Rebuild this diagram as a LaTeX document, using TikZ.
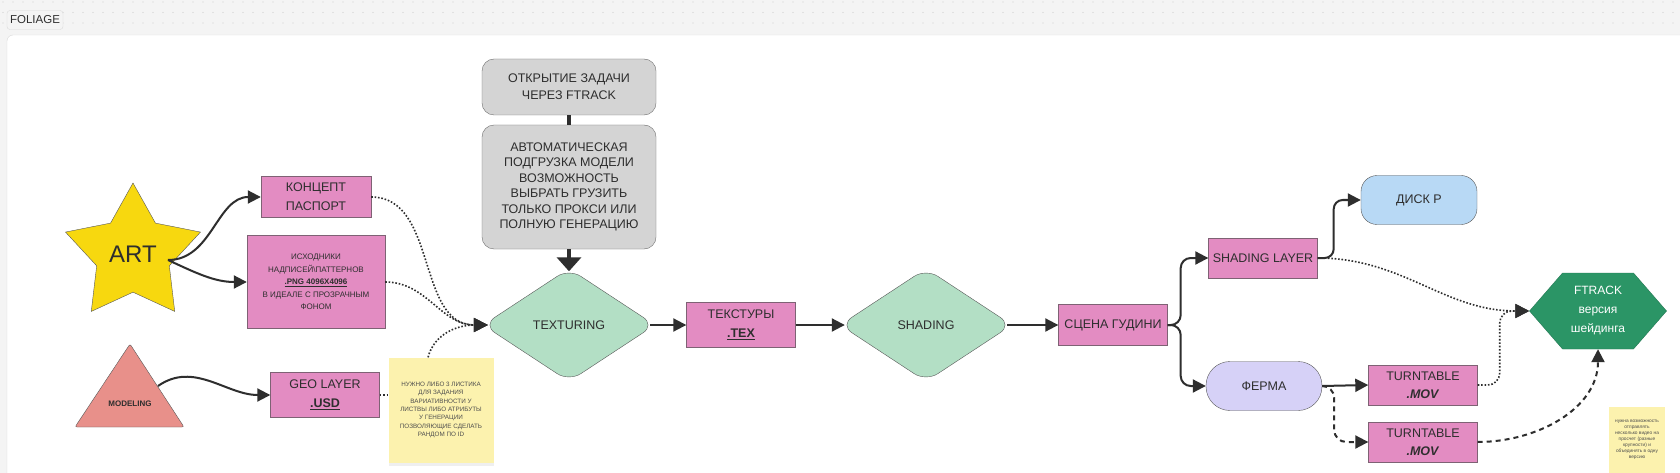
\documentclass[tikz,border=0pt]{standalone}
\usepackage{fontspec}
\setmainfont{Liberation Sans}
\usetikzlibrary{arrows.meta,shapes.geometric,shapes.symbols,shadows}

\definecolor{ink}{HTML}{2E2E2E}
\definecolor{boardgray}{HTML}{F4F4F4}
\definecolor{dotgray}{HTML}{CFCFCF}
\definecolor{panelline}{HTML}{DADADA}
\definecolor{pinkfill}{HTML}{E38CC2}
\definecolor{pinkline}{HTML}{7E6274}
\definecolor{grayfill}{HTML}{D4D4D4}
\definecolor{greenfill}{HTML}{B3DFC5}
\definecolor{bluefill}{HTML}{B8D9F5}
\definecolor{lilacfill}{HTML}{D6D1F7}
\definecolor{artyellow}{HTML}{F7D80F}
\definecolor{modelpink}{HTML}{E8908A}
\definecolor{notefill}{HTML}{FCF2AE}
\definecolor{ftgreen}{HTML}{2B9566}

\tikzset{
  tag/.style={draw=panelline, fill=boardgray, rounded corners=3pt, minimum width=56pt,
    minimum height=19pt, inner sep=0pt, text=ink, font=\fontsize{11.5}{12}\selectfont},
  pinkbox/.style={draw=pinkline, fill=pinkfill, minimum width=109pt, minimum height=41pt,
    inner sep=0pt, align=center, text=ink, font=\fontsize{12.5}{19}\selectfont},
  graybox/.style={draw=ink!70, fill=grayfill, rounded corners=12pt, minimum width=174pt,
    inner sep=0pt, align=center, text=ink},
  decide/.style={draw=ink!80, fill=greenfill, diamond, rounded corners=14pt, minimum width=172pt,
    minimum height=113pt, inner sep=0pt, text=ink, font=\fontsize{12.5}{15}\selectfont},
  pill/.style={draw=ink!80, minimum width=116pt, minimum height=49pt, inner sep=0pt,
    text=ink, font=\fontsize{12.5}{15}\selectfont},
  sticky/.style={fill=notefill, inner sep=0pt, align=center, text=ink!85,
    drop shadow={opacity=0.12, shadow xshift=0pt, shadow yshift=-3pt}},
  link/.style={draw=ink, line width=2pt, -{Triangle[length=13pt,width=13pt]}},
  dotlink/.style={draw=ink, line width=1.6pt, dash pattern=on 1.6pt off 1.8pt,
    -{Triangle[length=14pt,width=14pt]}},
  dashlink/.style={draw=ink, line width=2pt, dash pattern=on 5pt off 4pt,
    -{Triangle[length=13pt,width=13pt]}},
}

\begin{document}
\begin{tikzpicture}[x=1pt, y=1pt]
  \useasboundingbox (0,0) rectangle (1680,-473);
  \clip (0,0) rectangle (1680,-473);
  % Board and frame:
  \fill[boardgray] (0,0) rectangle (1680,-473);
  \foreach \gx in {3,13,...,1680}
    \foreach \gy in {-2,-12.5,-23}
      \fill[dotgray] (\gx,\gy) circle (0.6);
  \draw[panelline, fill=white, rounded corners=6pt] (7,-35) rectangle (1700,-500);
  \node[tag] (foliage) at (35,-20) {FOLIAGE};

  % Sources:
  \node[draw=ink!80, fill=artyellow, star, star points=5, star point ratio=1.86,
    minimum size=142pt, inner sep=0pt, text=ink, font=\fontsize{24}{28}\selectfont]
    (art) at (133,-254) {ART};
  \coordinate (artout) at (168,-260);
  \draw[draw=ink!80, fill=modelpink, rounded corners=2pt] (130,-344) -- (184,-427) -- (75,-427) -- cycle;
  \node[text=ink, font=\fontsize{8}{10}\selectfont\bfseries] (modeling) at (130,-404) {MODELING};
  \coordinate (modout) at (158,-386);

  \node[pinkbox, minimum width=110pt] (koncept) at (316,-197) {КОНЦЕПТ\\ПАСПОРТ};
  \node[pinkbox, minimum width=138pt, minimum height=93pt, font=\fontsize{8}{12.5}\selectfont]
    (ishod) at (316,-282) {ИСХОДНИКИ\\НАДПИСЕЙ\textbackslash ПАТТЕРНОВ\\
    \underline{\textbf{.PNG 4096X4096}}\\В ИДЕАЛЕ С ПРОЗРАЧНЫМ\\ФОНОМ};
  \node[pinkbox, minimum height=45pt] (geo) at (325,-395) {GEO LAYER\\\underline{\textbf{.USD}}};
  \node[sticky, minimum width=105pt, minimum height=105pt, font=\fontsize{6.3}{8.3}\selectfont]
    (leafnote) at (441,-410) {НУЖНО ЛИБО 3 ЛИСТИКА\\ДЛЯ ЗАДАНИЯ\\ВАРИАТИВНОСТИ У\\
    ЛИСТВЫ ЛИБО АТРИБУТЫ\\У ГЕНЕРАЦИИ\\ПОЗВОЛЯЮЩИЕ СДЕЛАТЬ\\РАНДОМ ПО ID};

  % Ftrack task:
  \node[graybox, minimum height=56pt, font=\fontsize{12.5}{17}\selectfont]
    (opentask) at (569,-87) {ОТКРЫТИЕ ЗАДАЧИ\\ЧЕРЕЗ FTRACK};
  \node[graybox, minimum height=124pt, font=\fontsize{12.5}{15.5}\selectfont]
    (autoload) at (569,-187) {АВТОМАТИЧЕСКАЯ\\ПОДГРУЗКА МОДЕЛИ\\ВОЗМОЖНОСТЬ\\ВЫБРАТЬ ГРУЗИТЬ\\
    ТОЛЬКО ПРОКСИ ИЛИ\\ПОЛНУЮ ГЕНЕРАЦИЮ};

  % Main line:
  \node[decide] (texturing) at (569,-325) {TEXTURING};
  \node[pinkbox, minimum height=45pt] (tex) at (741,-325) {ТЕКСТУРЫ\\\underline{\textbf{.TEX}}};
  \node[decide] (shading) at (926,-325) {SHADING};
  \node[pinkbox] (scene) at (1113,-325) {СЦЕНА ГУДИНИ};
  \node[pinkbox, minimum height=40pt] (shlayer) at (1263,-258) {SHADING LAYER};
  \node[pill, fill=bluefill, rounded corners=16pt] (disk) at (1419,-200) {ДИСК Р};
  \node[pill, fill=lilacfill, rounded corners=24pt] (ferma) at (1264,-386) {ФЕРМА};
  \node[pinkbox, minimum height=40pt, font=\fontsize{12.5}{18}\selectfont]
    (turn1) at (1423,-385) {TURNTABLE\\\textbf{\textit{.MOV}}};
  \node[pinkbox, minimum height=40pt, font=\fontsize{12.5}{18}\selectfont]
    (turn2) at (1423,-442) {TURNTABLE\\\textbf{\textit{.MOV}}};
  \node[draw=ftgreen!80!black, fill=ftgreen, signal, signal to=east and west, signal pointer angle=98,
    minimum width=137pt, minimum height=76pt, inner sep=0pt, align=center, text=white,
    font=\fontsize{12}{19}\selectfont] (ftrack) at (1598,-311) {FTRACK\\версия\\шейдинга};
  \node[sticky, minimum width=56pt, minimum height=66pt, font=\fontsize{4.8}{6}\selectfont]
    (videonote) at (1637,-440) {нужна возможность\\отправлять\\несколько видео на\\просчет (разные\\
    крупности) и\\объединять в одну\\версию};

  % Connectors:
  \draw[link] (artout) to[out=0, in=180] (koncept.west);
  \draw[link] (artout) to[out=-25, in=180] (ishod.west);
  \draw[link] (modout) to[out=35, in=180] (geo.west);
  \draw[draw=ink, line width=1.6pt, dash pattern=on 1.6pt off 1.8pt] (geo.east) -- (geo.east -| leafnote.west);
  \draw[dotlink, shorten >=-5pt] (koncept.east) to[out=0, in=180] (texturing.west);
  \draw[dotlink, shorten >=-5pt] (ishod.east) to[out=0, in=180] (texturing.west);
  \draw[dotlink, shorten >=-5pt] ([xshift=-13pt]leafnote.north) to[out=75, in=180] (texturing.west);
  \draw[draw=ink, line width=4pt] (opentask.south) -- (autoload.north);
  \draw[draw=ink, line width=4pt, shorten >=-3pt, -{Triangle[length=14pt,width=24pt]}]
    (autoload.south) -- (texturing.north);
  \draw[link, shorten <=-5pt] (texturing.east) -- (tex.west);
  \draw[link, shorten >=-5pt] (tex.east) -- (shading.west);
  \draw[link, shorten <=-5pt] (shading.east) -- (scene.west);
  \draw[link, rounded corners=10pt] (scene.east) -- ++(13,0) |- (shlayer.west);
  \draw[link, rounded corners=10pt] (scene.east) -- ++(13,0) |- (ferma.west);
  \draw[link, rounded corners=9pt] (shlayer.east) -- ++(16,0) |- (disk.west);
  \draw[dotlink] (shlayer.east) to[out=0, in=180] (ftrack.west);
  \draw[link] (ferma.east) -- (turn1.west);
  \draw[dashlink, rounded corners=12pt] (ferma.east) -- ++(12,0) |- (turn2.west);
  \draw[dotlink, rounded corners=12pt] (turn1.east) -- ++(22,0) |- (ftrack.west);
  \draw[dashlink] (turn2.east) to[out=0, in=-90] (ftrack.south);
\end{tikzpicture}
\end{document}
